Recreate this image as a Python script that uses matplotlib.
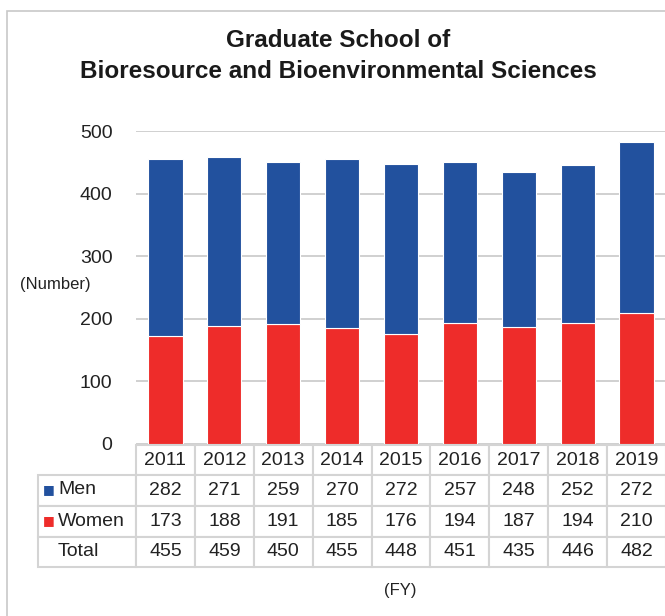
import matplotlib.pyplot as plt
from matplotlib.patches import Rectangle

# --- dati ---
anni = ["2011", "2012", "2013", "2014", "2015", "2016", "2017", "2018", "2019"]
uomini = [282, 271, 259, 270, 272, 257, 248, 252, 272]
donne = [173, 188, 191, 185, 176, 194, 187, 194, 210]
totale = [455, 459, 450, 455, 448, 451, 435, 446, 482]

BLU = "#22519E"
ROSSO = "#EE2C2A"
GRIGIO = "#d4d4d4"

plt.rcParams["font.family"] = ["Liberation Sans", "DejaVu Sans"]

fig = plt.figure(figsize=(6.65, 6.16), dpi=100)
W, H = 665, 616

# cornice della figura (aperta a destra e in basso)
fig.patches.append(Rectangle((7 / W, -0.1), 1.2, 1 - 11 / H + 0.1, transform=fig.transFigure,
                             fill=False, edgecolor="#c8c8c8", linewidth=1.2))

ax = fig.add_axes([136 / W, 1 - 444 / H, 530 / W, 313 / H])

x = list(range(len(anni)))
ax.bar(x, donne, width=0.58, color=ROSSO, edgecolor="white", linewidth=0.8, zorder=3)
ax.bar(x, uomini, width=0.58, bottom=donne, color=BLU, edgecolor="white", linewidth=0.8, zorder=3)

ax.set_xlim(-0.5, len(anni) - 0.5)
ax.set_ylim(0, 500)
ax.set_yticks([0, 100, 200, 300, 400, 500])
ax.tick_params(axis="y", length=0, pad=17, labelsize=14, labelcolor="#222222")
ax.set_xticks([])
ax.grid(axis="y", color="#c8c8c8", linewidth=1.2, zorder=0)
for s in ax.spines.values():
    s.set_visible(False)

# tabella dati sotto il grafico
righe = [[""] + [str(v) for v in uomini],
         [""] + [str(v) for v in donne],
         [""] + [str(v) for v in totale]]
larg_etich = 98 / 530
larg_col = 1 / len(anni)
tab = ax.table(cellText=righe, colLabels=[""] + anni,
               colWidths=[larg_etich] + [larg_col] * len(anni),
               cellLoc="center",
               bbox=[-larg_etich, -(567 - 444) / 313, 1 + larg_etich, (567 - 445) / 313])
tab.auto_set_font_size(False)
for (r, c), cella in tab.get_celld().items():
    cella.set_edgecolor(GRIGIO)
    cella.set_linewidth(1.5)
    cella.get_text().set_fontsize(14)
    cella.get_text().set_color("#222222")
    if r == 0 and c == 0:
        cella.visible_edges = ""

# etichette delle righe con quadratini colorati
etichette = [("Men", BLU), ("Women", ROSSO), ("Total", None)]
centri_px = [490, 521, 552]
for (nome, col), yp in zip(etichette, centri_px):
    ya = -(yp - 444) / 313
    if col is not None:
        ax.text((49 - 136) / 530, ya, "■", color=col, fontsize=9, ha="center", va="center",
                transform=ax.transAxes, family=["DejaVu Sans"])
    ax.text((58 - 136) / 530, ya, nome, fontsize=14, color="#222222", ha="left", va="center",
            transform=ax.transAxes)

fig.text(338 / W, 1 - 56 / H, "Graduate School of\nBioresource and Bioenvironmental Sciences",
         ha="center", va="center", fontsize=17.5, fontweight="bold", linespacing=1.4, color="#1a1a1a")
fig.text(20 / W, 1 - 285 / H, "(Number)", ha="left", va="center", fontsize=12, color="#222222")
fig.text(400 / W, 1 - 590 / H, "(FY)", ha="center", va="center", fontsize=12, color="#222222")

fig.savefig("out.png", dpi=100)
